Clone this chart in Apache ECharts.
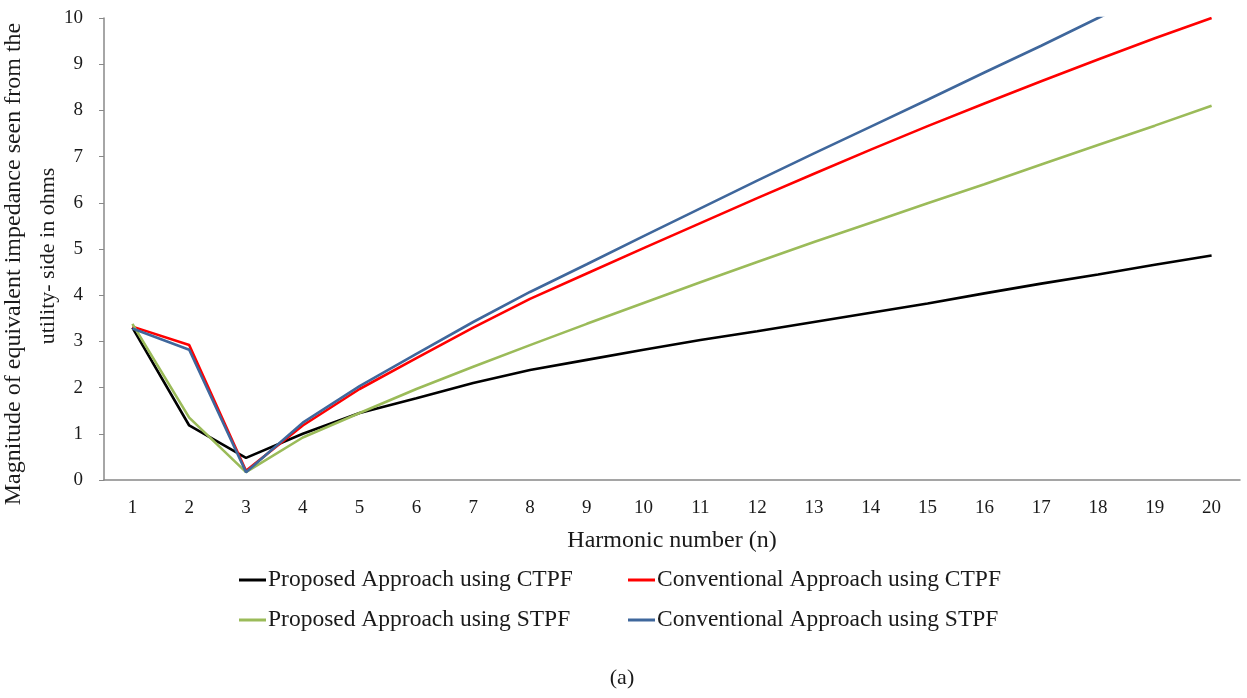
<!DOCTYPE html>
<html>
<head>
<meta charset="utf-8">
<script src="https://cdn.jsdelivr.net/npm/echarts@6/dist/echarts.min.js"></script>
<style>html,body{margin:0;padding:0;background:#fff;}#c{width:1247px;height:698px;}</style>
</head>
<body>
<div id="c"></div>
<script>
const harmonics = ['1','2','3','4','5','6','7','8','9','10','11','12','13','14','15','16','17','18','19','20'];
const proposedCTPF = [3.30,1.18,0.48,1.00,1.45,1.77,2.10,2.38,2.60,2.82,3.03,3.22,3.42,3.62,3.82,4.04,4.25,4.45,4.66,4.86];
const conventionalCTPF = [3.32,2.92,0.20,1.18,1.97,2.64,3.30,3.92,4.47,5.02,5.56,6.10,6.63,7.15,7.66,8.15,8.63,9.10,9.56,10.00];
const proposedSTPF = [3.38,1.35,0.17,0.92,1.45,1.97,2.45,2.92,3.38,3.83,4.28,4.72,5.15,5.57,5.99,6.40,6.83,7.25,7.67,8.10];
const conventionalSTPF = [3.28,2.82,0.17,1.24,2.03,2.73,3.42,4.07,4.67,5.28,5.88,6.48,7.07,7.65,8.23,8.82,9.40,10.00,10.58,11.15];
const yTicks = [0,1,2,3,4,5,6,7,8,9,10];
const seriesNames = ['Proposed Approach using CTPF','Conventional Approach using CTPF','Proposed Approach using STPF','Conventional Approach using STPF'];

const FONT = '"Liberation Serif", "Times New Roman", serif';
const TXT = '#1a1a1a';
const chart = echarts.init(document.getElementById('c'), null, {renderer:'canvas'});
const mk = (name, data, color) => ({
  name, type:'line', data, symbol:'none', clip:true,
  lineStyle:{color, width:2.6}, itemStyle:{color}, emphasis:{disabled:true}
});
const legendBase = {orient:'vertical', top:563, itemGap:16, itemWidth:27, itemHeight:3, icon:'rect',
  textStyle:{color:TXT, fontFamily:FONT, fontSize:23.5, lineHeight:24, padding:[0,0,0,-3]}};
chart.setOption({
  animation:false,
  backgroundColor:'#fff',
  grid:{left:104, right:7, top:18, bottom:218, containLabel:false},
  xAxis:{
    type:'category', data:harmonics, boundaryGap:true,
    axisLine:{lineStyle:{color:'#888', width:1.5}},
    axisTick:{show:false},
    axisLabel:{color:TXT, fontFamily:FONT, fontSize:19, margin:19},
    name:'Harmonic number (n)', nameLocation:'middle', nameGap:49,
    nameTextStyle:{color:TXT, fontFamily:FONT, fontSize:24}
  },
  yAxis:{
    type:'value', min:0, max:10, interval:1,
    axisLine:{show:true, lineStyle:{color:'#888', width:1.5}},
    axisTick:{show:true, length:5, lineStyle:{color:'#888'}},
    splitLine:{show:false},
    axisLabel:{color:TXT, fontFamily:FONT, fontSize:19, margin:21,
      formatter:v => yTicks.includes(v) ? String(v) : ''}
  },
  legend:[
    Object.assign({left:234, data:[seriesNames[0], seriesNames[2]]}, legendBase),
    Object.assign({left:623, data:[seriesNames[1], seriesNames[3]]}, legendBase)
  ],
  graphic:[
    {type:'text', x:14, y:264, rotation:Math.PI/2,
     style:{text:'Magnitude of equivalent impedance seen from the', fill:TXT, font:'24px "Liberation Serif"', align:'center', verticalAlign:'middle'}},
    {type:'text', x:48, y:256, rotation:Math.PI/2,
     style:{text:'utility- side in ohms', fill:TXT, font:'22px "Liberation Serif"', align:'center', verticalAlign:'middle'}},
    {type:'text', x:622, y:678,
     style:{text:'(a)', fill:TXT, font:'22px "Liberation Serif"', align:'center', verticalAlign:'middle'}}
  ],
  series:[
    mk(seriesNames[0], proposedCTPF, '#000000'),
    mk(seriesNames[1], conventionalCTPF, '#ff0000'),
    mk(seriesNames[2], proposedSTPF, '#9bbb59'),
    mk(seriesNames[3], conventionalSTPF, '#3f679c')
  ]
});
</script>
</body>
</html>
